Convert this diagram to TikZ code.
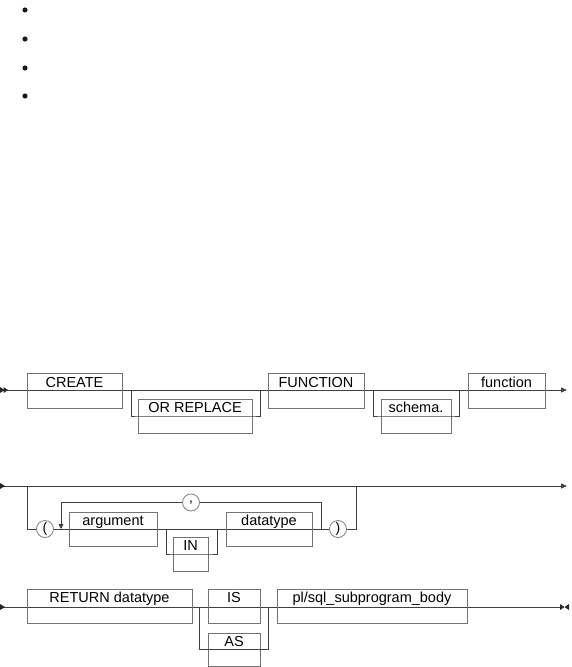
\documentclass[tikz,border=0pt]{standalone}
\usepackage{fontspec}
\setmainfont{Liberation Sans}
\usetikzlibrary{arrows.meta}
\begin{document}
\begin{tikzpicture}[x=1pt,y=-1pt,
 wire/.style={draw=black!75, line width=0.8pt},
 kbox/.style={draw=black!55, line width=0.9pt, rectangle, inner sep=0pt, minimum height=34pt, text height=10pt, text depth=17pt, font=\fontsize{14.5}{16}\selectfont},
 cbox/.style={draw=black!50, line width=0.8pt, circle, fill=white, inner sep=0pt, minimum size=17pt, font=\fontsize{14}{15}\selectfont},
 tip/.style={fill=black!85, draw=none},
 endarrow/.style={-{Triangle[length=6pt,width=5pt]}},
]
\useasboundingbox (0,0) rectangle (572,667);
% bullets
\foreach \yy in {10,39,68,96} \fill[black!90] (25,\yy) circle (2.6);

% ---------- row 1 ----------
\coordinate (s1) at (0,390);
\coordinate (e1) at (567,390);
\draw[wire,endarrow] (s1) -- (e1);
\fill[tip] (0,387) -- (4.5,390) -- (0,393) -- cycle;
\fill[tip] (3.5,387) -- (8,390) -- (3.5,393) -- cycle;
\node[kbox, minimum width=95pt, minimum height=35pt] (create) at (74.5,390.5) {CREATE};
\node[kbox, minimum width=114pt] (orrep) at (195,416) {OR REPLACE};
\coordinate (b1a) at (131,390);
\coordinate (b1b) at (260,390);
\draw[wire] (b1a) |- (orrep.west) -- (orrep.east) -| (b1b);
\node[kbox, minimum width=96pt, minimum height=35pt] (functionkw) at (316,390.5) {FUNCTION};
\node[kbox, minimum width=70pt] (schema) at (416,416) {schema.};
\coordinate (b2a) at (373,390);
\coordinate (b2b) at (459,390);
\draw[wire] (b2a) |- (schema.west) -- (schema.east) -| (b2b);
\node[kbox, minimum width=77pt, minimum height=35pt] (fname) at (506.5,390.5) {function};

% ---------- row 2 ----------
\coordinate (s2) at (0,486);
\coordinate (e2) at (567,486);
\draw[wire,endarrow] (s2) -- (e2);
\fill[tip] (0,483) -- (5,486) -- (0,489) -- cycle;
\node[cbox] (lp) at (45,529) {(};
\node[cbox] (rp) at (338,529) {)};
\node[cbox] (comma) at (191,502.5) {,};
\coordinate (p2a) at (27,486);
\coordinate (p2b) at (356,486);
\draw[wire] (p2a) |- (lp.west);
\draw[wire] (lp.east) -- (rp.west);
\draw[wire] (rp.east) -| (p2b);
\node[kbox, minimum width=88pt] (argument) at (113,529) {argument};
\node[kbox, minimum width=35pt] (inkw) at (190.5,554) {IN};
\coordinate (b3a) at (166,529);
\coordinate (b3b) at (217,529);
\draw[wire] (b3a) |- (inkw.west) -- (inkw.east) -| (b3b);
\node[kbox, minimum width=86pt] (datatype) at (269,529) {datatype};
\coordinate (l1) at (321,529);
\coordinate (l2) at (61,529);
\draw[wire] (l1) |- (comma.east);
\draw[wire,-{Triangle[length=5pt,width=5pt]}] (comma.west) -| (l2);

% ---------- row 3 ----------
\coordinate (s3) at (0,607);
\coordinate (e3) at (561,607);
\draw[wire] (s3) -- (e3);
\fill[tip] (0,604) -- (5,607) -- (0,610) -- cycle;
\fill[tip] (560,604) -- (564.5,607) -- (560,610) -- cycle;
\fill[tip] (569,604) -- (564.5,607) -- (569,610) -- cycle;
\node[kbox, minimum width=165pt] (ret) at (109.5,606) {RETURN datatype};
\node[kbox, minimum width=52pt] (iskw) at (234,606) {IS};
\node[kbox, minimum width=52pt, minimum height=33pt] (askw) at (234,649.5) {AS};
\coordinate (b4a) at (199,607);
\coordinate (b4b) at (268,607);
\draw[wire] (b4a) |- (askw.west) -- (askw.east) -| (b4b);
\node[kbox, minimum width=190pt] (body) at (372,606) {pl/sql\_subprogram\_body};
\end{tikzpicture}
\end{document}
